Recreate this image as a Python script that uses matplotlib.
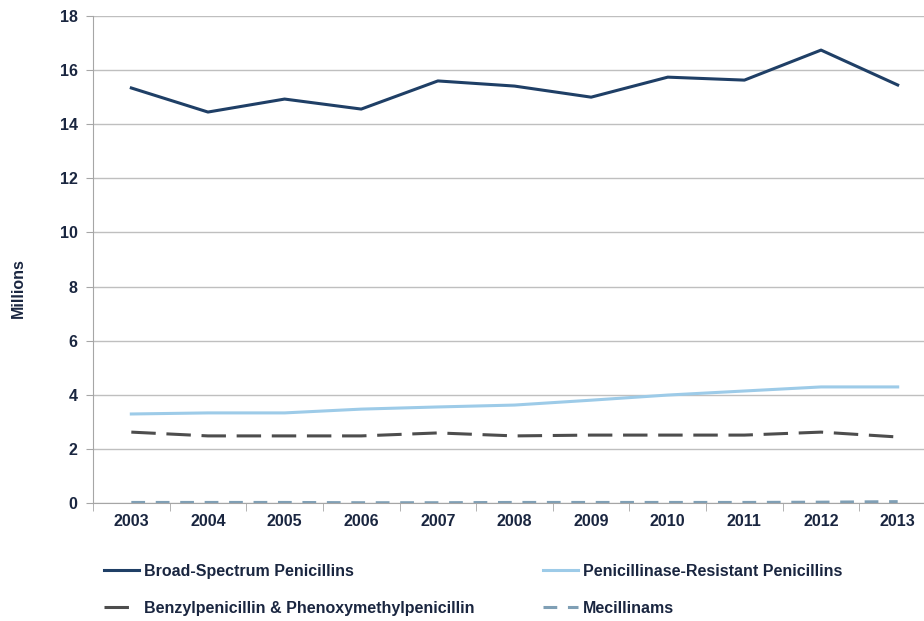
import matplotlib.pyplot as plt
import numpy as np

years = ["2003", "2004", "2005", "2006", "2007", "2008", "2009", "2010", "2011", "2012", "2013"]
broad_spectrum = [15.34, 14.45, 14.93, 14.56, 15.60, 15.41, 15.00, 15.74, 15.63, 16.74, 15.45]
pen_resistant = [3.29, 3.33, 3.33, 3.47, 3.55, 3.62, 3.80, 3.99, 4.14, 4.29, 4.29]
benzyl_phenoxy = [2.62, 2.48, 2.48, 2.48, 2.59, 2.48, 2.51, 2.51, 2.51, 2.62, 2.44]
mecillinams = [0.02, 0.02, 0.02, 0.01, 0.01, 0.02, 0.02, 0.02, 0.02, 0.03, 0.05]

plt.rcParams["font.family"] = ["Liberation Sans", "DejaVu Sans"]
text_color = "#1a2640"
fs = 11.5

fig = plt.figure(figsize=(9.24, 6.21), dpi=100)
ax = fig.add_axes([93 / 924, 118 / 621, 843 / 924, 487 / 621])

x = np.arange(len(years))
l1, = ax.plot(x, broad_spectrum, color="#1f3f66", lw=2.2, label="Broad-Spectrum Penicillins")
l2, = ax.plot(x, pen_resistant, color="#9dcbe8", lw=2.2, label="Penicillinase-Resistant Penicillins")
l3, = ax.plot(x, benzyl_phenoxy, color="#4d4d4d", lw=2.2, dashes=(8, 3.5),
              label="Benzylpenicillin & Phenoxymethylpenicillin")
l4, = ax.plot(x, mecillinams, color="#7f9fb5", lw=2.2, dashes=(4.5, 3.5), label="Mecillinams")

ax.set_xlim(-0.5, len(years) - 0.5)
ax.set_ylim(0, 18)
ax.set_yticks(np.arange(0, 19, 2))
ax.set_xticks(x)
ax.set_xticklabels(years)
ax.set_xticks(np.arange(-0.5, len(years), 1), minor=True)
ax.tick_params(axis="x", which="major", length=0, pad=8)
ax.tick_params(axis="x", which="minor", length=6, color="#a6a6a6", direction="out")
ax.tick_params(axis="y", length=5, color="#a6a6a6", pad=6)
for lab in ax.get_xticklabels() + ax.get_yticklabels():
    lab.set_fontsize(fs)
    lab.set_fontweight("bold")
    lab.set_color(text_color)

ax.grid(axis="y", color="#bfbfbf", lw=1)
ax.set_axisbelow(True)
for s in ["top", "right"]:
    ax.spines[s].set_visible(False)
ax.spines["left"].set_color("#a6a6a6")
ax.spines["bottom"].set_color("#a6a6a6")

fig.text(18 / 924, 1 - 288 / 621, "Millions", rotation=90, ha="center", va="center",
         fontsize=fs, fontweight="bold", color=text_color)

# column-wise fill: Broad / Benzyl in col 1, Pen-resistant / Mecillinams in col 2
leg = fig.legend(handles=[l1, l3, l2, l4], loc="upper left",
                 bbox_to_anchor=(104 / 924, 1 - 564 / 621), ncol=2,
                 frameon=False, borderpad=0, borderaxespad=0,
                 handlelength=2.2, handletextpad=0.3, columnspacing=4.3,
                 labelspacing=1.35, prop={"size": fs, "weight": "bold"})
for t in leg.get_texts():
    t.set_color(text_color)

fig.savefig("out.png", dpi=100)
